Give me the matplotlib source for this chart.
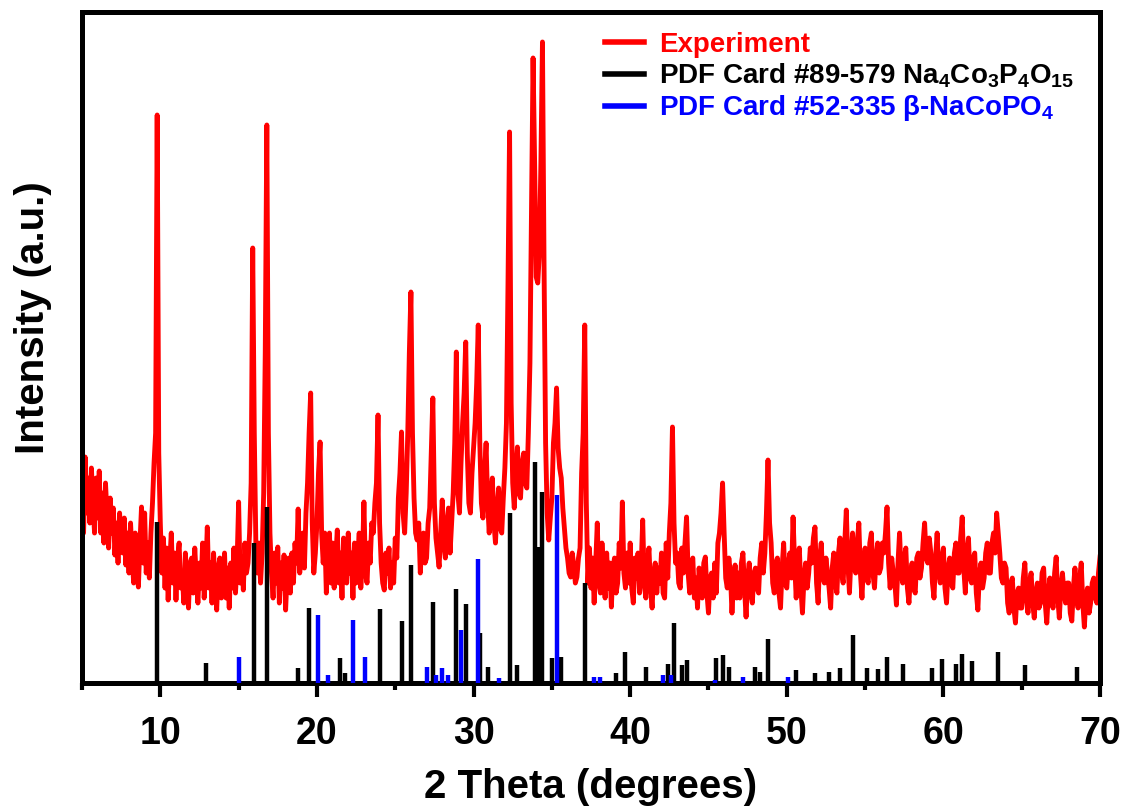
import matplotlib
matplotlib.use('Agg')
import matplotlib.pyplot as plt
import numpy as np
from matplotlib.ticker import MultipleLocator

plt.rcParams['font.family'] = ['Liberation Sans', 'DejaVu Sans']
plt.rcParams['font.weight'] = 'bold'
plt.rcParams['mathtext.fontset'] = 'custom'
plt.rcParams['mathtext.rm'] = 'Liberation Sans:bold'
plt.rcParams['mathtext.it'] = 'Liberation Sans:bold'
plt.rcParams['mathtext.bf'] = 'Liberation Sans:bold'
plt.rcParams['mathtext.default'] = 'rm'

# ── Experimental pattern: one value every 0.1 deg from 5.0 to 70.0 ─────────
# (one row per degree, a.u.)
exp_intensity = [
    200, 150, 226, 170, 205, 160, 215, 180, 150, 205,   # 5
    165, 212, 150, 190, 140, 200, 168, 135, 185, 150,   # 6
    175, 128, 160, 120, 170, 140, 130, 165, 118, 150,   # 7
    110, 160, 125, 100, 150, 118, 96, 140, 176, 120,    # 8
    170, 110, 140, 105, 150, 180, 220, 250, 568, 230,   # 9
    160, 110, 145, 95, 135, 83, 120, 150, 100, 130,     # 10
    83, 125, 140, 95, 110, 80, 130, 100, 75, 120,       # 11
    125, 90, 135, 105, 80, 120, 95, 140, 85, 110,       # 12
    156, 95, 120, 80, 130, 100, 73, 115, 125, 85,       # 13
    100, 130, 85, 115, 75, 120, 95, 135, 90, 120,       # 14
    181, 100, 125, 93, 140, 110, 120, 150, 200, 435,    # 15
    250, 140, 110, 140, 100, 130, 190, 330, 558, 250,   # 16
    150, 110, 85, 130, 100, 136, 80, 120, 95, 128,      # 17
    73, 110, 125, 90, 130, 100, 140, 120, 174, 110,     # 18
    130, 150, 115, 170, 200, 250, 290, 160, 110, 130,   # 19
    160, 210, 241, 150, 120, 150, 90, 130, 150, 100,    # 20
    140, 95, 125, 153, 100, 130, 85, 145, 120, 100,     # 21
    150, 110, 130, 85, 140, 100, 125, 150, 95, 120,     # 22
    181, 110, 100, 140, 120, 160, 150, 180, 200, 268,   # 23
    160, 120, 100, 93, 130, 110, 135, 95, 120, 100,     # 24
    145, 125, 185, 210, 251, 170, 150, 190, 250, 330,   # 25
    391, 250, 185, 150, 143, 160, 110, 140, 150, 120,   # 26
    125, 160, 175, 230, 285, 180, 145, 130, 116, 150,   # 27
    183, 140, 125, 160, 175, 130, 160, 190, 240, 331,   # 28
    190, 170, 220, 260, 290, 341, 230, 180, 170, 210,   # 29
    235, 260, 300, 358, 240, 180, 165, 210, 240, 180,   # 30
    150, 190, 205, 160, 140, 175, 195, 155, 150, 185,   # 31
    215, 260, 400, 551, 280, 200, 175, 210, 236, 190,   # 32
    185, 220, 230, 200, 195, 250, 320, 470, 625, 520,   # 33
    406, 400, 430, 520, 641, 420, 240, 170, 143, 165,   # 34
    185, 240, 260, 295, 235, 215, 205, 175, 155, 135,   # 35
    125, 110, 106, 130, 118, 100, 106, 125, 135, 210,   # 36
    250, 358, 180, 100, 135, 95, 125, 80, 120, 160,     # 37
    100, 90, 140, 110, 85, 130, 95, 120, 76, 115,       # 38
    125, 90, 100, 140, 115, 181, 110, 95, 130, 100,     # 39
    140, 95, 80, 125, 105, 130, 90, 115, 163, 100,      # 40
    85, 120, 135, 95, 75, 110, 120, 90, 115, 100,       # 41
    130, 90, 85, 140, 105, 150, 180, 256, 160, 120,     # 42
    130, 100, 95, 135, 110, 140, 166, 110, 90, 120,     # 43
    125, 85, 105, 75, 115, 95, 85, 120, 126, 90,        # 44
    70, 105, 110, 85, 120, 90, 140, 150, 170, 200,      # 45
    150, 105, 95, 125, 110, 70, 100, 118, 85, 110,      # 46
    85, 120, 130, 95, 66, 105, 120, 90, 80, 110,        # 47
    115, 95, 90, 125, 140, 110, 130, 170, 223, 160,     # 48
    140, 100, 90, 120, 125, 90, 75, 115, 140, 100,      # 49
    95, 120, 130, 105, 166, 120, 85, 125, 135, 95,      # 50
    70, 105, 120, 95, 110, 135, 120, 145, 156, 100,     # 51
    80, 125, 140, 105, 100, 125, 110, 95, 75, 115,      # 52
    130, 100, 90, 130, 145, 110, 100, 140, 173, 120,    # 53
    90, 125, 150, 115, 110, 140, 160, 110, 85, 120,     # 54
    135, 105, 100, 140, 150, 110, 95, 125, 140, 110,    # 55
    115, 140, 130, 150, 176, 120, 95, 125, 110, 100,    # 56
    78, 120, 150, 110, 100, 125, 135, 95, 80, 110,      # 57
    120, 95, 90, 125, 130, 105, 115, 140, 160, 125,     # 58
    120, 145, 130, 100, 85, 125, 150, 110, 100, 125,    # 59
    135, 95, 80, 115, 125, 100, 95, 130, 140, 110,      # 60
    110, 145, 166, 115, 90, 130, 145, 105, 100, 125,    # 61
    130, 90, 73, 110, 120, 95, 105, 130, 140, 110,      # 62
    110, 140, 150, 130, 170, 150, 130, 105, 100, 120,   # 63
    115, 80, 70, 100, 105, 75, 60, 90, 95, 75,          # 64
    75, 105, 120, 85, 70, 100, 110, 80, 65, 90,         # 65
    100, 75, 80, 110, 115, 80, 60, 90, 105, 85,         # 66
    75, 110, 126, 85, 65, 95, 110, 90, 80, 100,         # 67
    100, 70, 62, 95, 115, 85, 75, 105, 120, 80,         # 68
    56, 85, 95, 70, 80, 100, 105, 85, 80, 110,          # 69
    126,                                                # 70
]
two_theta = np.linspace(5.0, 70.0, len(exp_intensity))

# ── PDF card #89-579 Na4Co3P4O15 (black sticks) ─────────────────────────────
na4_pos = [9.8, 12.9, 16.0, 16.8, 18.8, 19.5, 21.5, 21.8, 24.0, 25.4,
           26.0, 27.4, 28.9, 29.5, 30.4, 30.9, 32.3, 32.8, 33.9, 34.1,
           34.4, 35.0, 35.6, 37.1, 39.1, 39.7, 41.0, 42.4, 42.8, 43.3,
           43.6, 45.5, 45.9, 46.3, 48.0, 48.3, 48.8, 50.6, 51.8, 52.7,
           53.4, 54.2, 55.1, 55.8, 56.4, 57.4, 59.3, 59.9, 60.8, 61.2,
           61.8, 63.5, 65.2, 68.5]
na4_int = [161, 20, 140, 176, 15, 75, 25, 10, 74, 62,
           118, 81, 94, 79, 50, 16, 170, 18, 221, 136,
           191, 25, 26, 100, 10, 31, 16, 19, 60, 18,
           23, 25, 28, 16, 16, 11, 44, 13, 10, 11,
           15, 48, 15, 14, 26, 19, 15, 24, 19, 29,
           22, 31, 18, 16]

# ── PDF card #52-335 beta-NaCoPO4 (blue sticks) ─────────────────────────────
naco_pos = [15.0, 20.1, 20.7, 22.3, 23.1, 27.0, 27.6, 28.0, 28.4, 29.2,
            30.3, 31.6, 35.3, 37.7, 38.1, 42.1, 42.6, 45.4, 47.2, 50.1]
naco_int = [26, 68, 8, 63, 26, 16, 8, 15, 8, 53,
            124, 5, 188, 6, 6, 8, 8, 3, 6, 6]

RED = '#ff0000'
BLUE = '#0000ff'

fig = plt.figure(figsize=(11.28, 8.09), dpi=100)
ax = fig.add_axes([0.0727, 0.1557, 0.9025, 0.8295])

ax.plot(two_theta, exp_intensity, color=RED, lw=3.5, label='Experiment', zorder=2)
ax.vlines(na4_pos, 0, na4_int, color='black', lw=3.2, zorder=3)
ax.vlines(naco_pos, 0, naco_int, color=BLUE, lw=3.2, zorder=4)

ax.set_xlim(5, 70)
ax.set_ylim(0, 671)
ax.set_yticks([])
ax.xaxis.set_major_locator(MultipleLocator(10))
ax.xaxis.set_minor_locator(MultipleLocator(5))
ax.tick_params(axis='x', which='major', direction='out', length=10, width=3,
               labelsize=27, pad=14)
ax.tick_params(axis='x', which='minor', direction='out', length=5, width=3)
for spine in ax.spines.values():
    spine.set_linewidth(3.6)

ax.set_xlabel('2 Theta (degrees)', fontsize=29, fontweight='bold')
ax.set_ylabel('Intensity (a.u.)', fontsize=29, fontweight='bold')
ax.xaxis.set_label_coords(0.5, -0.127)
ax.yaxis.set_label_coords(-0.029, 0.545)

handles = [
    plt.Line2D([], [], color=RED, lw=4),
    plt.Line2D([], [], color='black', lw=4),
    plt.Line2D([], [], color=BLUE, lw=4),
]
labels = [
    'Experiment',
    'PDF Card #89-579 Na$_4$Co$_3$P$_4$O$_{15}$',
    'PDF Card #52-335 \u03b2-NaCoPO$_4$',
]
ax.legend(handles, labels, loc='upper left', bbox_to_anchor=(0.514, 0.97),
          frameon=False, handlelength=1.4, handletextpad=0.55,
          labelspacing=0.12, borderpad=0, borderaxespad=0,
          labelcolor=[RED, 'black', BLUE], prop={'weight': 'bold', 'size': 20})

fig.savefig('out.png', dpi=100)
